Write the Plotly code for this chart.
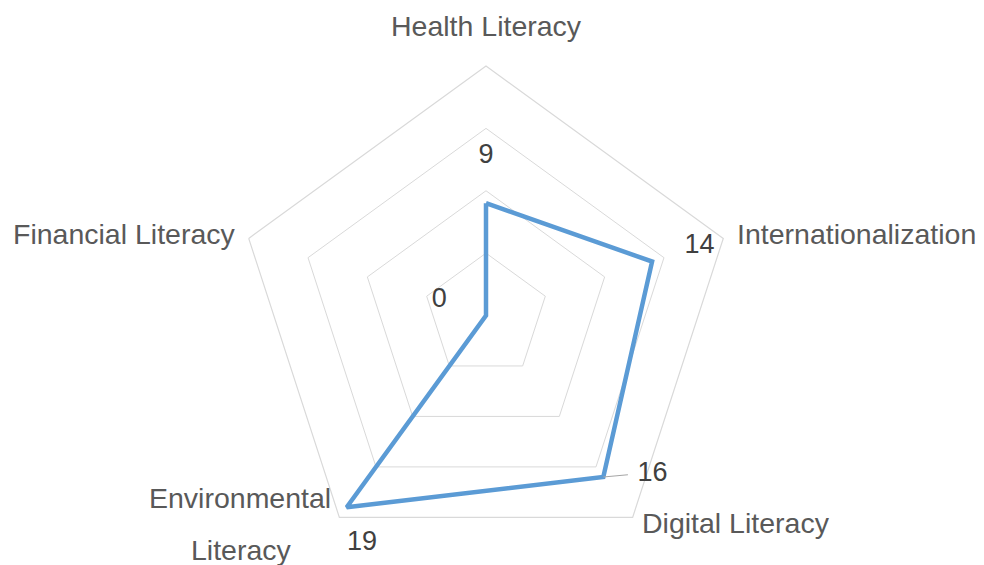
import plotly.graph_objects as go

# ---- data ----
categories = ["Health Literacy", "Internationalization", "Digital Literacy",
              "Environmental Literacy", "Financial Literacy"]
values = [9, 14, 16, 19, 0]

# ---- style: value-label placement (radial units / degrees relative to each spoke) ----
label_dr = [3.75, 4.0, 2.45, 0.86, 3.95]
label_dtheta = [0, 0.0, -10.3, -6.0, 0.3]
label_pos = ["middle center", "middle center", "middle center", "bottom center", "middle center"]
label_pad = [6, 6, 6, 17, 6]   # invisible marker size -> text offset for outside labels

# ---- style: category label placement (screen pixels) ----
cat_label_lines = [["Health Literacy"], ["Internationalization"], ["Digital Literacy"],
                   ["Environmental", "Literacy"], ["Financial Literacy"]]
cat_label_xy = [[(486, 26)], [(735, 234)], [(640, 523)],
                [(240, 498), (241, 550)], [(238, 234)]]
cat_label_anchor = ["center", "left", "left", "center", "right"]

FONT = "Liberation Sans, Arial, Helvetica, sans-serif"
R_MAX = 20
n = len(categories)
angles = [i * 360 / n for i in range(n)]
DOMAIN = dict(x=[0, 1], y=[0, 1])

# figure geometry (page body adds an 8px offset)
W, H = 984, 565
ML, MR, MT, MB = 0, 28, 58, 8
OFF = 8
PW, PH = W - ML - MR, H - MT - MB


def to_paper(sx, sy):
    return (sx - OFF - ML) / PW, (H - MB - (sy - OFF)) / PH


fig = go.Figure()

# main series (closed polygon) on the category polar
fig.add_trace(go.Scatterpolar(
    r=values + [values[0]],
    theta=categories + [categories[0]],
    mode="lines",
    line=dict(color="#5B9BD5", width=4.5),
    hoverinfo="skip",
    showlegend=False,
    subplot="polar",
))

# leader line for the moved "16" label
i16 = 2
fig.add_trace(go.Scatterpolar(
    r=[values[i16], values[i16] + 1.1],
    theta=[angles[i16], angles[i16] - 5.7],
    mode="lines",
    line=dict(color="#a6a6a6", width=1.2),
    hoverinfo="skip",
    showlegend=False,
    cliponaxis=False,
    subplot="polar2",
))

# value labels
fig.add_trace(go.Scatterpolar(
    r=[v + d for v, d in zip(values, label_dr)],
    theta=[a + d for a, d in zip(angles, label_dtheta)],
    mode="text",
    text=[str(v) for v in values],
    textposition=label_pos,
    marker=dict(size=label_pad),
    textfont=dict(family=FONT, size=27, color="#404040"),
    hoverinfo="skip",
    showlegend=False,
    cliponaxis=False,
    subplot="polar2",
))

# category labels
annotations = []
for lines, xys, anc in zip(cat_label_lines, cat_label_xy, cat_label_anchor):
    for txt, (sx, sy) in zip(lines, xys):
        px, py = to_paper(sx, sy)
        annotations.append(dict(
            x=px, y=py, xref="paper", yref="paper", text=txt, showarrow=False,
            xanchor=anc, yanchor="middle",
            font=dict(family=FONT, size=28.5, color="#595959"),
        ))

fig.update_layout(
    width=W,
    height=H,
    margin=dict(l=ML, r=MR, t=MT, b=MB),
    paper_bgcolor="white",
    plot_bgcolor="white",
    font=dict(family=FONT, size=27, color="#595959"),
    annotations=annotations,
    polar=dict(
        domain=DOMAIN,
        bgcolor="white",
        gridshape="linear",
        radialaxis=dict(
            range=[0, R_MAX],
            dtick=5,
            showticklabels=False,
            ticks="",
            showline=False,
            gridcolor="#d9d9d9",
            gridwidth=1.2,
        ),
        angularaxis=dict(
            type="category",
            categoryarray=categories,
            rotation=90,
            direction="clockwise",
            showgrid=False,
            showticklabels=False,
            ticks="",
            showline=True,
            linecolor="#d9d9d9",
            linewidth=1.2,
        ),
    ),
    polar2=dict(
        domain=DOMAIN,
        bgcolor="rgba(0,0,0,0)",
        radialaxis=dict(range=[0, R_MAX], visible=False),
        angularaxis=dict(type="linear", rotation=90, direction="clockwise",
                         visible=False),
    ),
)

fig.write_html("out.html")
